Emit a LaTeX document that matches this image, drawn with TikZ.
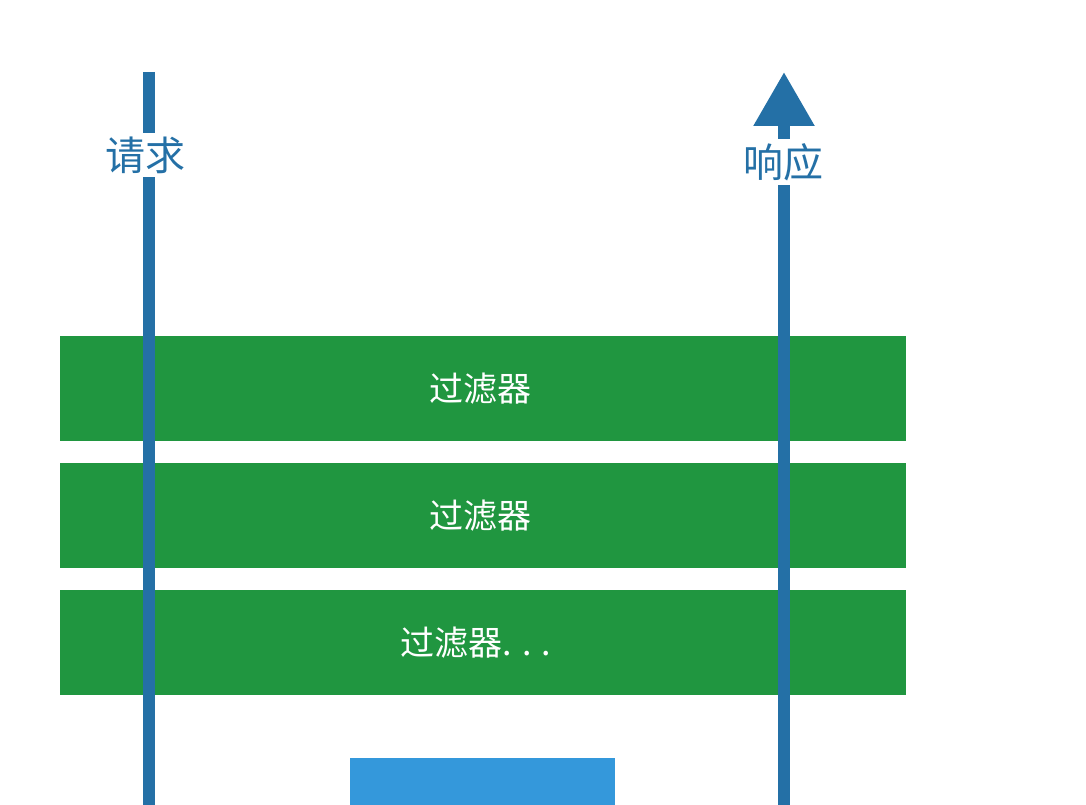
\documentclass[tikz,border=0pt]{standalone}
\usepackage{fontspec}
\setmainfont{Noto Sans CJK SC}
\usetikzlibrary{arrows.meta}
\definecolor{linecol}{RGB}{36,112,166}
\definecolor{filtgreen}{RGB}{32,150,64}
\definecolor{srvblue}{RGB}{52,152,219}
\tikzset{
  flow/.style={draw=linecol, line width=12pt},
  filterbar/.style={fill=filtgreen, minimum width=846pt, minimum height=105pt, inner sep=0pt, text=white, font=\fontsize{34}{36}\selectfont},
  lbl/.style={fill=white, text=linecol, inner sep=4pt, font=\fontsize{40}{42}\selectfont}
}
\begin{document}
\begin{tikzpicture}[x=1pt,y=-1pt]
\useasboundingbox (0,0) rectangle (1086,805);
% filters
\node[filterbar] (f1) at (483,388.5) {过滤器\hspace*{6pt}};
\node[filterbar] (f2) at (483,515.5) {过滤器\hspace*{6pt}};
\node[filterbar] (f3) at (483,642.5) {过滤器.\hspace{10pt}.\hspace{10pt}.\hspace*{14pt}};
% server box (cut off at bottom)
\node[fill=srvblue, minimum width=265pt, minimum height=80pt, inner sep=0pt, anchor=north west] (srv) at (350,758) {};
% request line
\coordinate (reqtop) at (149,72);
\coordinate (reqbot) at (149,810);
\draw[flow] (reqtop) -- (reqbot);
\node[lbl] (req) at (145,155) {请求};
% response line
\coordinate (resbot) at (784,810);
\coordinate (restop) at (784,72);
\draw[flow, -{Triangle[width=58pt,length=54pt]}] (resbot) -- (restop);
\node[lbl] (res) at (783,162) {响应};
\end{tikzpicture}
\end{document}
